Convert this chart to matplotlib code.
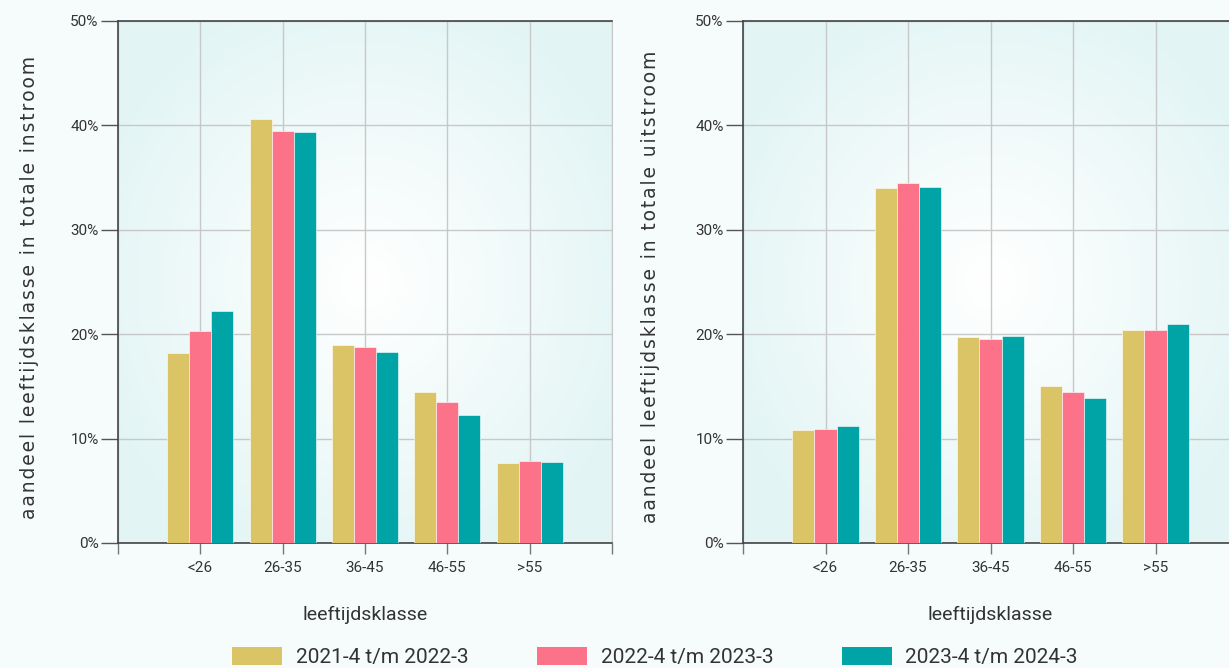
import matplotlib
matplotlib.use("Agg")
import matplotlib.pyplot as plt
import numpy as np
from matplotlib.patches import Patch
from matplotlib.ticker import FuncFormatter

categories = ["<26", "26-35", "36-45", "46-55", ">55"]
periods = ["2021-4 t/m 2022-3", "2022-4 t/m 2023-3", "2023-4 t/m 2024-3"]
colors = ["#dbc466", "#fc7389", "#00a4a6"]

# aandeel per leeftijdsklasse (%)
instroom_2122 = [18.2, 40.6, 19.0, 14.5, 7.7]
instroom_2223 = [20.3, 39.5, 18.8, 13.5, 7.9]
instroom_2324 = [22.2, 39.4, 18.3, 12.3, 7.8]

uitstroom_2122 = [10.8, 34.0, 19.7, 15.0, 20.4]
uitstroom_2223 = [10.9, 34.5, 19.5, 14.5, 20.4]
uitstroom_2324 = [11.2, 34.1, 19.8, 13.9, 21.0]

panels = [
    ("aandeel leeftijdsklasse in totale instroom", [instroom_2122, instroom_2223, instroom_2324]),
    ("aandeel leeftijdsklasse in totale uitstroom", [uitstroom_2122, uitstroom_2223, uitstroom_2324]),
]

W, H = 1229, 668
fig = plt.figure(figsize=(W / 100, H / 100), dpi=100, facecolor="#f6fbfc")

# radial gradient for the plot area
gx, gy = np.meshgrid(np.linspace(-1, 1, 200), np.linspace(-1, 1, 200))
radial = np.clip(np.sqrt(gx ** 2 + gy ** 2) / 1.15, 0, 1)
inner = np.array([1.0, 1.0, 1.0])
outer = np.array([0.89, 0.96, 0.96])
grad = inner + (outer - inner) * radial[..., None] ** 1.1

# axes boxes in pixels (left, right), y-label centre x
boxes = [(118, 612, 30), (743, 1238, 650)]
top, bottom = 21, 543
x = np.arange(len(categories))
width = 0.267
spaced = "\u200a"  # letter spacing of the axis title

for (ylabel, series), (x0, x1, lx) in zip(panels, boxes):
    ax = fig.add_axes([x0 / W, 1 - bottom / H, (x1 - x0) / W, (bottom - top) / H])
    ax.set_facecolor("none")
    ax.imshow(grad, extent=(-1, 5, 0, 50), aspect="auto", zorder=0, interpolation="bicubic")
    for i, vals in enumerate(series):
        ax.bar(x + (i - 1) * width, vals, width, color=colors[i], edgecolor="#ffffff",
               linewidth=0.4, zorder=3)
    ax.set_xlim(-1, 5)
    ax.set_ylim(0, 50)
    ax.set_xticks(np.arange(-1, 6))
    ax.set_xticklabels([""] + categories + [""])
    ax.set_yticks(np.arange(0, 51, 10))
    ax.yaxis.set_major_formatter(FuncFormatter(lambda v, p: f"{v:.0f}%"))
    ax.grid(True, color="#c8c8c8", linewidth=1.0, zorder=1)
    ax.set_axisbelow(True)
    for side in ["left", "bottom", "top"]:
        ax.spines[side].set_color("#444444")
        ax.spines[side].set_linewidth(1.2)
    ax.spines["right"].set_color("#c8c8c8")
    ax.tick_params(axis="y", length=12, width=1.0, color="#555555", pad=2,
                   labelsize=11, labelcolor="#333333")
    ax.tick_params(axis="x", length=8, width=1.0, color="#777777", pad=5,
                   labelsize=11, labelcolor="#333333")
    for lab in ax.get_xticklabels() + ax.get_yticklabels():
        lab.set_family(["Roboto", "DejaVu Sans"])
    ax.set_xlabel("leeftijdsklasse", fontsize=14, color="#333333", labelpad=22,
                  family=["Roboto", "DejaVu Sans"])
    ax.set_ylabel(spaced.join(ylabel), fontsize=13.5, color="#333333", va="center")
    ax.yaxis.set_label_coords((lx - x0) / (x1 - x0), 0.49)

handles = [Patch(facecolor=c, edgecolor="none") for c in colors]
fig.legend(handles, periods, loc="lower center", bbox_to_anchor=(0.533, -0.027), ncol=3,
           frameon=False, handlelength=2.4, handleheight=1.0, handletextpad=0.65,
           columnspacing=3.3, prop={"family": ["Roboto", "DejaVu Sans"], "size": 15},
           labelcolor="#333333")

fig.savefig("out.png", dpi=100, facecolor=fig.get_facecolor())
